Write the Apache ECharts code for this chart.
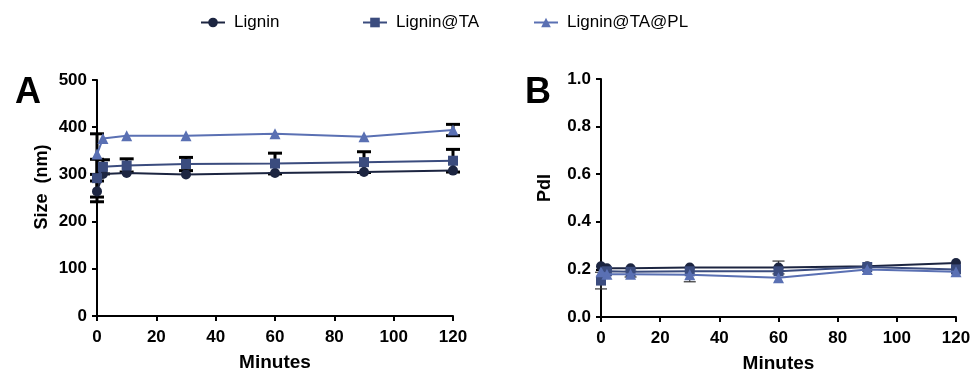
<!DOCTYPE html>
<html>
<head>
<meta charset="utf-8">
<script src="https://cdn.jsdelivr.net/npm/echarts@6/dist/echarts.min.js"></script>
<style>html,body{margin:0;padding:0;background:#fff}#c{width:971px;height:373px}</style>
</head>
<body>
<div id="c"></div>
<script>
const minutes = [0, 2, 10, 30, 60, 90, 120];
const seriesNames = ['Lignin', 'Lignin@TA', 'Lignin@TA@PL'];
const sizeLignin = [264, 301, 303, 300, 303, 305, 308];
const sizeLigninErr = [22, 0, 0, 0, 0, 0, 0];
const sizeTA = [292, 316, 319, 322, 323, 326, 329];
const sizeTAErr = [40, 15, 14, 14, 22, 22, 24];
const sizePL = [343, 376, 382, 382, 386, 380, 394];
const sizePLErr = [43, 0, 0, 0, 0, 0, 12];
const pdiLignin = [0.213, 0.205, 0.205, 0.208, 0.208, 0.213, 0.227];
const pdiLigninErr = [0, 0, 0, 0, 0.027, 0, 0];
const pdiTA = [0.153, 0.192, 0.190, 0.192, 0.192, 0.210, 0.200];
const pdiTAErr = [0.035, 0, 0, 0, 0, 0, 0];
const pdiPL = [0.190, 0.180, 0.180, 0.178, 0.165, 0.200, 0.190];
const pdiPLErr = [0, 0, 0.012, 0.030, 0, 0, 0];
const sizeTicks = [0, 100, 200, 300, 400, 500];
const pdiTicks = [0.0, 0.2, 0.4, 0.6, 0.8, 1.0];

const colors = ['#1c2541', '#3b4c7e', '#5a70b3'];
const symbols = ['circle', 'rect', 'triangle'];
const FONT = '"Liberation Sans", Arial, Helvetica, sans-serif';

const chart = echarts.init(document.getElementById('c'), null, {renderer: 'canvas'});

function axisX(gi) {
  return {
    type: 'value', gridIndex: gi, min: 0, max: 120, interval: 20,
    name: 'Minutes', nameLocation: 'middle', nameGap: 37,
    nameTextStyle: {fontFamily: FONT, fontWeight: 'bold', fontSize: 19, color: '#000'},
    axisLine: {show: true, onZero: false, lineStyle: {color: '#000', width: 2}},
    axisTick: {show: true, length: 5, lineStyle: {color: '#000', width: 2}},
    axisLabel: {fontFamily: FONT, fontWeight: 'bold', fontSize: 17, color: '#000', margin: 13},
    splitLine: {show: false}
  };
}
function axisY(gi, min, max, interval, fmt) {
  return {
    type: 'value', gridIndex: gi, min: min, max: max, interval: interval,
    axisLine: {show: true, onZero: false, lineStyle: {color: '#000', width: 2}},
    axisTick: {show: true, length: 5, lineStyle: {color: '#000', width: 2}},
    axisLabel: {fontFamily: FONT, fontWeight: 'bold', fontSize: 17, color: '#000', margin: 10, formatter: fmt},
    splitLine: {show: false}
  };
}

function errSeries(gi, xs, ys, es, color, lw, cap, z) {
  const data = xs.map((x, i) => [x, ys[i] - es[i], ys[i] + es[i], es[i]]);
  return {
    type: 'custom', xAxisIndex: gi, yAxisIndex: gi, z: z, silent: true,
    data: data,
    encode: {x: 0, y: [1, 2]},
    renderItem: function (params, api) {
      if (!api.value(3)) return null;
      const x = api.value(0);
      const lo = api.coord([x, api.value(1)]);
      const hi = api.coord([x, api.value(2)]);
      const st = {stroke: color, lineWidth: lw};
      return {
        type: 'group',
        children: [
          {type: 'line', shape: {x1: lo[0], y1: lo[1], x2: hi[0], y2: hi[1]}, style: st},
          {type: 'line', shape: {x1: lo[0] - cap, y1: lo[1], x2: lo[0] + cap, y2: lo[1]}, style: st},
          {type: 'line', shape: {x1: hi[0] - cap, y1: hi[1], x2: hi[0] + cap, y2: hi[1]}, style: st}
        ]
      };
    }
  };
}

function lineSeries(gi, idx, ys) {
  return {
    name: seriesNames[idx], type: 'line', xAxisIndex: gi, yAxisIndex: gi,
    data: minutes.map((m, i) => [m, ys[i]]),
    symbol: symbols[idx], symbolSize: idx === 2 ? 11 : 10,
    itemStyle: {color: colors[idx]},
    lineStyle: {color: colors[idx], width: 2},
    z: 5 + idx, animation: false
  };
}

const sizeData = [sizeLignin, sizeTA, sizePL];
const sizeErr = [sizeLigninErr, sizeTAErr, sizePLErr];
const pdiData = [pdiLignin, pdiTA, pdiPL];
const pdiErr = [pdiLigninErr, pdiTAErr, pdiPLErr];

const series = [];
for (let k = 0; k < 3; k++) series.push(errSeries(0, minutes, sizeData[k], sizeErr[k], '#000', 3, 7, 3));
for (let k = 0; k < 3; k++) series.push(errSeries(1, minutes, pdiData[k], pdiErr[k], '#333', 1.2, 6, 3));
for (let k = 2; k >= 0; k--) series.push(lineSeries(0, k, sizeData[k]));
for (let k = 2; k >= 0; k--) series.push(lineSeries(1, k, pdiData[k]));

const legendPos = [195, 357, 528];
const legends = seriesNames.map((n, i) => ({
  data: [n], left: legendPos[i], top: 9, itemWidth: 24, itemHeight: 12, itemGap: 10,
  selectedMode: false,
  textStyle: {fontFamily: FONT, fontSize: 17, color: '#000', padding: [0, 0, 0, 4]}
}));

const nameStyle = {fontFamily: FONT, fontWeight: 'bold', fontSize: 18, fill: '#000', textAlign: 'center', textVerticalAlign: 'middle'};

chart.setOption({
  animation: false,
  backgroundColor: '#fff',
  legend: legends,
  title: [
    {text: 'A', left: 10, top: 70, textStyle: {fontFamily: FONT, fontWeight: 'bold', fontSize: 36, color: '#000'}},
    {text: 'B', left: 520, top: 70, textStyle: {fontFamily: FONT, fontWeight: 'bold', fontSize: 36, color: '#000'}}
  ],
  graphic: [
    {type: 'text', x: 42, y: 187, rotation: Math.PI / 2, style: Object.assign({text: 'Size  (nm)'}, nameStyle)},
    {type: 'text', x: 545, y: 188, rotation: Math.PI / 2, style: Object.assign({text: 'PdI'}, nameStyle)}
  ],
  grid: [
    {left: 97, top: 80, width: 356, height: 236, containLabel: false, outerBoundsMode: 'none'},
    {left: 601, top: 79, width: 355, height: 238, containLabel: false, outerBoundsMode: 'none'}
  ],
  xAxis: [axisX(0), axisX(1)],
  yAxis: [
    axisY(0, sizeTicks[0], sizeTicks[sizeTicks.length - 1], sizeTicks[1] - sizeTicks[0], v => String(v)),
    axisY(1, pdiTicks[0], pdiTicks[pdiTicks.length - 1], 0.2, v => v.toFixed(1))
  ],
  series: series
});
</script>
</body>
</html>
